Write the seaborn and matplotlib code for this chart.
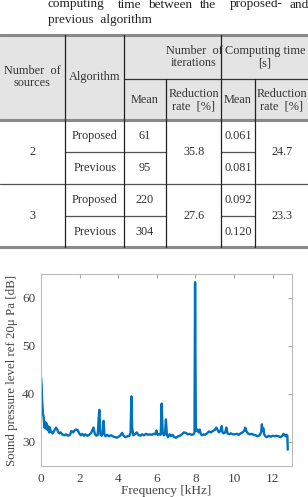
import matplotlib
matplotlib.use("Agg")
import matplotlib.pyplot as plt
import seaborn as sns
import pandas as pd

# Table data
sources = ["2", "3"]
algorithms = ["Proposed", "Previous", "Proposed", "Previous"]
iter_mean = ["61", "95", "220", "304"]
iter_reduction = ["35.8", "27.6"]
time_mean = ["0.061", "0.081", "0.092", "0.120"]
time_reduction = ["24.7", "23.3"]

# Spectrum: frequency [kHz], level [dB]
freq = [0.00, 0.03, 0.06, 0.10, 0.14, 0.18, 0.22, 0.26, 0.30, 0.34, 0.38, 0.42,
        0.46, 0.50, 0.55, 0.60, 0.66, 0.72, 0.78, 0.84, 0.90, 0.96, 1.02, 1.10,
        1.20, 1.30, 1.40, 1.50, 1.58, 1.66, 1.74, 1.82, 1.90, 1.98, 2.06, 2.14,
        2.22, 2.30, 2.40, 2.50, 2.60, 2.66, 2.72, 2.78, 2.86, 2.94, 2.98, 3.02,
        3.08, 3.14, 3.20, 3.24, 3.28, 3.34, 3.42, 3.52, 3.62, 3.72, 3.82, 3.92,
        4.02, 4.12, 4.20, 4.28, 4.38, 4.48, 4.58, 4.64, 4.68, 4.72, 4.78, 4.86,
        4.96, 5.04, 5.14, 5.24, 5.34, 5.44, 5.54, 5.64, 5.74, 5.84, 5.92, 5.98,
        6.04, 6.12, 6.20, 6.25, 6.30, 6.36, 6.42, 6.47, 6.52, 6.58, 6.66, 6.74,
        6.82, 6.90, 7.00, 7.10, 7.20, 7.30, 7.40, 7.50, 7.60, 7.70, 7.80, 7.90,
        7.95, 7.98, 8.02, 8.06, 8.10, 8.16, 8.22, 8.28, 8.34, 8.42, 8.50, 8.60,
        8.70, 8.80, 8.90, 9.00, 9.08, 9.14, 9.22, 9.30, 9.36, 9.40, 9.46, 9.54,
        9.60, 9.66, 9.74, 9.84, 9.94, 10.04, 10.14, 10.24, 10.34, 10.44, 10.52,
        10.58, 10.64, 10.72, 10.82, 10.92, 11.02, 11.12, 11.22, 11.32, 11.40,
        11.44, 11.48, 11.52, 11.56, 11.62, 11.70, 11.80, 11.90, 12.00, 12.10,
        12.20, 12.30, 12.40, 12.50, 12.56, 12.62, 12.68, 12.72, 12.76, 12.78]
level = [43.5, 42.0, 38.5, 36.0, 35.0, 33.0, 34.2, 32.8, 33.8, 32.5, 33.2, 32.0,
         33.0, 32.3, 32.0, 31.8, 32.2, 32.6, 33.0, 32.6, 32.0, 31.8, 32.0, 31.6,
         31.4, 31.6, 31.3, 31.5, 32.3, 32.0, 32.4, 32.6, 32.5, 31.8, 31.4, 31.7,
         31.3, 31.6, 31.3, 31.5, 31.9, 32.5, 33.0, 31.8, 31.3, 31.5, 34.5, 36.7,
         31.5, 31.3, 32.0, 34.4, 31.6, 31.2, 31.5, 31.2, 31.4, 31.2, 31.0, 30.9,
         31.1, 31.4, 31.9, 31.3, 31.0, 31.2, 31.3, 32.0, 39.5, 33.0, 31.4, 31.6,
         32.0, 31.5, 31.3, 31.6, 31.4, 31.7, 31.5, 31.6, 31.5, 31.7, 31.6, 32.4,
         31.5, 31.6, 31.5, 38.0, 32.0, 31.4, 31.6, 34.7, 31.5, 31.0, 31.6, 31.2,
         31.5, 31.0, 30.9, 31.2, 31.3, 31.6, 32.0, 31.9, 31.6, 31.7, 31.5, 31.6,
         32.0, 63.3, 32.5, 32.3, 32.6, 32.0, 32.6, 31.6, 31.4, 31.6, 31.5, 31.8,
         32.2, 32.0, 32.3, 32.5, 33.0, 32.6, 32.0, 32.4, 33.3, 32.0, 31.8, 32.0,
         33.0, 31.8, 31.6, 31.8, 31.6, 31.6, 31.7, 31.5, 31.8, 32.0, 32.3,
         33.0, 32.2, 31.8, 31.6, 31.7, 31.5, 31.4, 31.2, 31.4, 32.0,
         33.7, 32.3, 32.8, 31.6, 31.2, 31.0, 31.3, 31.1, 31.3, 31.2,
         31.3, 31.2, 31.0, 31.3, 31.7, 31.4, 31.2, 31.5, 31.3, 28.4]

x_ticks = [0, 2, 4, 6, 8, 10, 12]
y_ticks = [30, 40, 50, 60]

df = pd.DataFrame({"Frequency": freq, "Level": level})

sns.set_style("white")
plt.rcParams["font.family"] = ["Liberation Serif", "DejaVu Serif"]

fig = plt.figure(figsize=(3.08, 4.97), dpi=100)

# ---- table (drawn in pixel coordinates) ----
tab = fig.add_axes([0, 0, 1, 1])
tab.set_xlim(0, 308)
tab.set_ylim(497, 0)
tab.axis("off")

txt = "#333333"
fs = 8.8
tab.fill_between([0, 308], 35, 120, color="#e4e4e4", lw=0)

for y in [35, 120, 247]:
    tab.plot([0, 308], [y, y], color="#8a8a8a", lw=2.2)
tab.plot([0, 308], [184, 184], color="#555555", lw=0.9)
tab.plot([124, 308], [79, 79], color="#333333", lw=0.9)
for y in [152, 216]:
    tab.plot([65, 166], [y, y], color="#555555", lw=0.9)
    tab.plot([221, 255], [y, y], color="#555555", lw=0.9)
for x in [65, 124, 221]:
    tab.plot([x, x], [35, 247], color="#222222", lw=0.9)
for x in [166, 255]:
    tab.plot([x, x], [79, 247], color="#222222", lw=0.9)

# caption (partly cut at top)
words = ["computing", "time", "between", "the", "proposed-", "and"]
word_x = [48, 118, 148, 200, 230, 290]
for w, x in zip(words, word_x):
    tab.text(x, 7.5, w, ha="left", va="baseline", fontsize=9.5, color="#222222")
tab.text(48, 23.5, "previous  algorithm", ha="left", va="baseline", fontsize=9.5, color="#222222")

headers = [(32, 77, "Number  of\nsources"), (95, 77, "Algorithm"),
           (194, 57, "Number  of\niterations"), (265, 57, "Computing time\n[s]"),
           (145, 100, "Mean"), (194, 100, "Reduction\nrate  [%]"),
           (238, 100, "Mean"), (282, 100, "Reduction\nrate  [%]")]
for x, y, s in headers:
    tab.text(x, y, s, ha="center", va="center", fontsize=fs, color=txt, linespacing=1.1)

row_y = [136, 168, 200, 232]
for i, y in enumerate(row_y):
    tab.text(95, y, algorithms[i], ha="center", va="center", fontsize=fs, color=txt)
    tab.text(145, y, iter_mean[i], ha="center", va="center", fontsize=fs, color=txt)
    tab.text(238, y, time_mean[i], ha="center", va="center", fontsize=fs, color=txt)
for j, y in enumerate([152, 216]):
    tab.text(32, y, sources[j], ha="center", va="center", fontsize=fs, color=txt)
    tab.text(194, y, iter_reduction[j], ha="center", va="center", fontsize=fs, color=txt)
    tab.text(282, y, time_reduction[j], ha="center", va="center", fontsize=fs, color=txt)

# ---- spectrum chart ----
ax = fig.add_axes([41 / 308, 31 / 497, 251 / 308, 192 / 497])
sns.lineplot(data=df, x="Frequency", y="Level", ax=ax, color="#0072BD", lw=1.7)
ax.set_xlim(0, 13)
ax.set_ylim(25, 65)
ax.set_xticks(x_ticks)
ax.set_yticks(y_ticks)
ax.tick_params(direction="in", length=3, top=True, right=True, labelsize=9.5,
               colors="#aaaaaa", labelcolor="#444444")
ax.tick_params(axis="x", pad=5)
ax.tick_params(axis="y", pad=4)
for sp in ax.spines.values():
    sp.set_color("#bbbbbb")
    sp.set_linewidth(0.8)
ax.set_xlabel("Frequency [kHz]", fontsize=9.5, color="#444444", labelpad=0)
ax.set_ylabel("Sound pressure level ref 20\u03bc Pa [dB]", fontsize=9.3, color="#444444", labelpad=3)

fig.savefig("out.png", dpi=100)
